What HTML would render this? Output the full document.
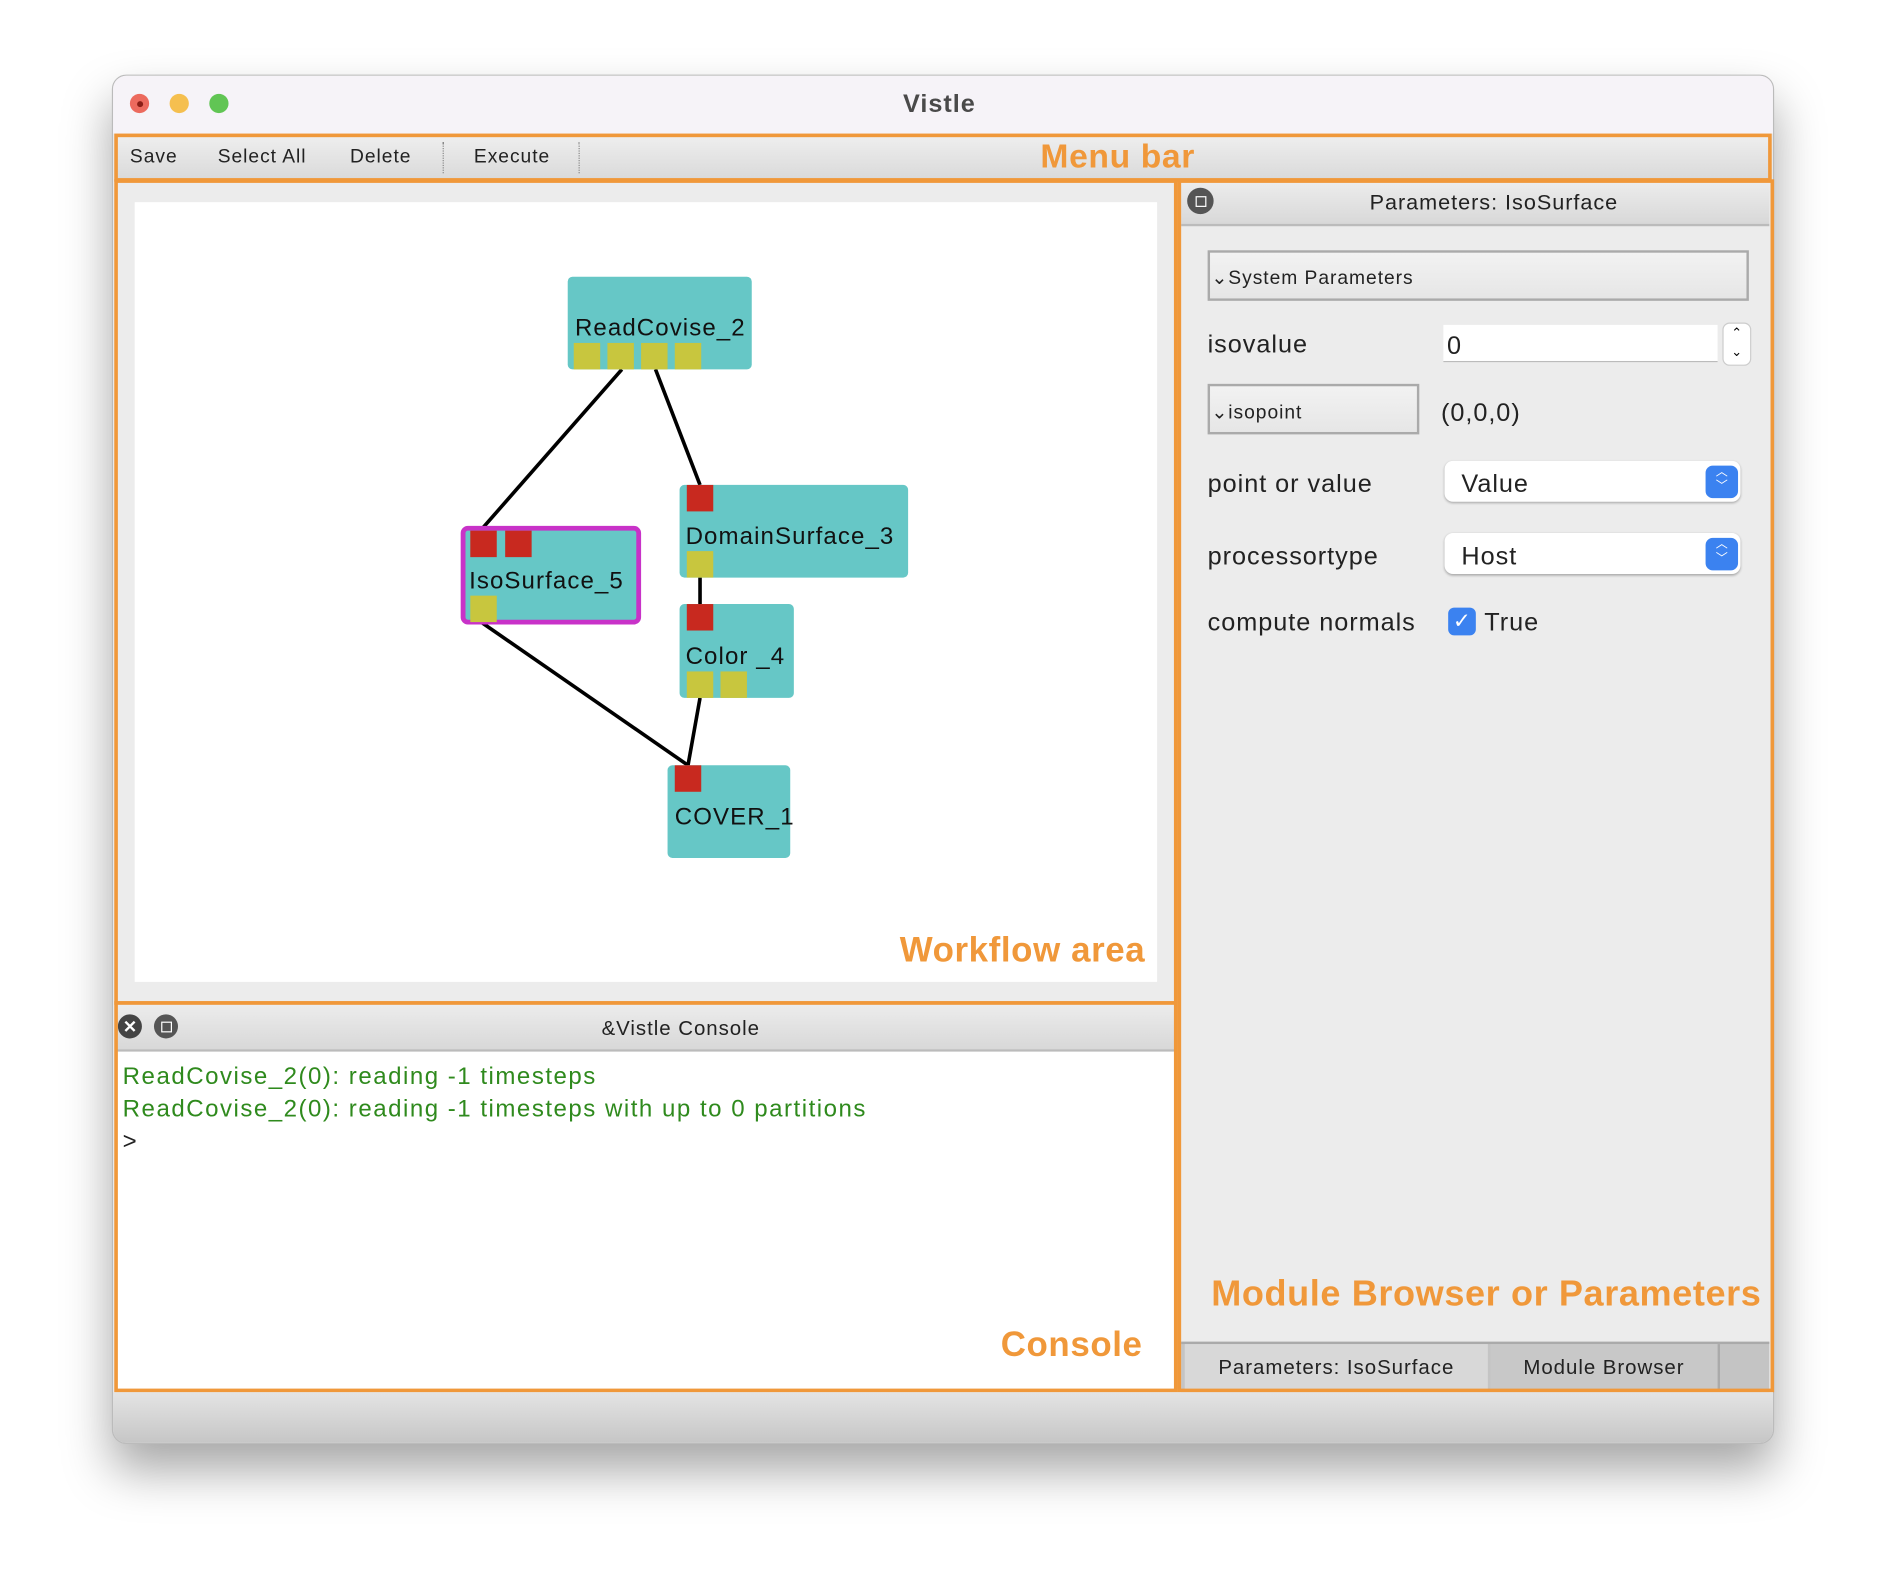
<!DOCTYPE html>
<html><head><meta charset="utf-8"><style>
html,body{margin:0;padding:0;background:#fff;width:1886px;height:1592px;overflow:hidden}
#s{position:absolute;left:0;top:0;width:1568px;height:1323px;transform:scale(1.2028,1.2033);transform-origin:0 0;font-family:"Liberation Sans",sans-serif}
.a{position:absolute}
.ob{position:absolute;border:3px solid #f0983a;box-sizing:border-box}
.or{position:absolute;color:#f0983a;font-weight:bold;white-space:nowrap;letter-spacing:0.5px}
.node{position:absolute;background:#66c7c6;border-radius:4px}
.y{position:absolute;background:#c8c63e;width:22px;height:22px}
.r{position:absolute;background:#c8291f;width:22px;height:22px}
.nt{position:absolute;font-size:20px;color:#111;white-space:nowrap;letter-spacing:0.9px}
.t{position:absolute;white-space:nowrap;color:#222;letter-spacing:0.8px}
</style></head><body><div id="s">
<div class="a" style="left:93px;top:62px;width:1382px;height:1138px;border-radius:12px;background:#ececec;box-shadow:0 22px 40px rgba(0,0,0,0.35);border:1px solid #bbb;box-sizing:border-box;overflow:hidden">
</div>
<div class="a" style="left:94px;top:63px;width:1380px;height:48px;background:#f6f3f8;border-radius:11px 11px 0 0"></div>
<div class="a" style="left:108px;top:78px;width:16px;height:16px;border-radius:50%;background:#ec6a5e"></div>
<div class="a" style="left:114px;top:84px;width:5px;height:5px;border-radius:50%;background:#8a1e16"></div>
<div class="a" style="left:141px;top:78px;width:16px;height:16px;border-radius:50%;background:#f5bf4f"></div>
<div class="a" style="left:174px;top:78px;width:16px;height:16px;border-radius:50%;background:#61c554"></div>
<div class="t" style="left:731px;top:75px;width:100px;text-align:center;font-size:21px;font-weight:bold;color:#4a4a4a">Vistle</div>
<!-- menu bar -->
<div class="a" style="left:95px;top:112px;width:1378px;height:38px;background:linear-gradient(#efefef,#d9d9d9)"></div>
<div class="ob" style="left:95px;top:111px;width:1378px;height:40px"></div>
<div class="t" style="left:108px;top:122px;font-size:16px">Save</div>
<div class="t" style="left:181px;top:122px;font-size:16px">Select All</div>
<div class="t" style="left:291px;top:122px;font-size:16px">Delete</div>
<div class="a" style="left:368px;top:118px;height:26px;border-left:1px dotted #888"></div>
<div class="t" style="left:394px;top:122px;font-size:16px">Execute</div>
<div class="a" style="left:481px;top:118px;height:26px;border-left:1px dotted #888"></div>
<div class="or" style="left:865px;top:114px;font-size:28px">Menu bar</div>
<!-- workflow -->
<div class="a" style="left:112px;top:168px;width:850px;height:648px;background:#fff"></div>
<div class="ob" style="left:95px;top:149px;width:884px;height:686px"></div>
<svg class="a" style="left:0;top:0" width="1000" height="800">
<g stroke="#000" stroke-width="3">
<line x1="517" y1="307" x2="402" y2="438"/><line x1="545" y1="307" x2="582" y2="403"/>
<line x1="582" y1="480" x2="582" y2="502"/><line x1="400" y1="517" x2="572" y2="636"/>
<line x1="582" y1="580" x2="572" y2="636"/></g></svg>
<div class="node" style="left:472px;top:230px;width:153px;height:77px"></div>
<div class="y" style="left:477px;top:285px"></div><div class="y" style="left:505px;top:285px"></div><div class="y" style="left:533px;top:285px"></div><div class="y" style="left:561px;top:285px"></div>
<div class="nt" style="left:478px;top:262px">ReadCovise_2</div>
<div class="node" style="left:565px;top:403px;width:190px;height:77px"></div>
<div class="r" style="left:571px;top:403px"></div><div class="y" style="left:571px;top:458px"></div>
<div class="nt" style="left:570px;top:435px">DomainSurface_3</div>
<div class="node" style="left:383px;top:437px;width:150px;height:82px;border:4px solid #c832c8;box-sizing:border-box;border-radius:6px"></div>
<div class="r" style="left:391px;top:441px"></div><div class="r" style="left:420px;top:441px"></div><div class="y" style="left:391px;top:495px"></div>
<div class="nt" style="left:390px;top:472px">IsoSurface_5</div>
<div class="node" style="left:565px;top:502px;width:95px;height:78px"></div>
<div class="r" style="left:571px;top:502px"></div><div class="y" style="left:571px;top:558px"></div><div class="y" style="left:599px;top:558px"></div>
<div class="nt" style="left:570px;top:535px">Color _4</div>
<div class="node" style="left:555px;top:636px;width:102px;height:77px"></div>
<div class="r" style="left:561px;top:636px"></div>
<div class="nt" style="left:561px;top:668px">COVER_1</div>
<div class="or" style="left:748px;top:774px;font-size:29px">Workflow area</div>
<!-- console -->
<div class="a" style="left:97px;top:835px;width:880px;height:37px;background:linear-gradient(#ececec,#d8d8d8);border-bottom:2px solid #bbb"></div>
<div class="a" style="left:98px;top:843px;width:20px;height:20px;border-radius:50%;background:#444;color:#fff;font-size:14px;text-align:center;line-height:20px;font-weight:bold">✕</div>
<div class="a" style="left:128px;top:843px;width:20px;height:20px;border-radius:50%;background:#555"><div class="a" style="left:6px;top:6px;width:7px;height:7px;border:1.5px solid #fff"></div></div>
<div class="t" style="left:466px;top:845px;width:200px;text-align:center;font-size:17px">&amp;Vistle Console</div>
<div class="a" style="left:97px;top:874px;width:880px;height:280px;background:#fff"></div>
<div class="t" style="left:102px;top:884px;font-size:20px;color:#2f8a1d;letter-spacing:1.25px">ReadCovise_2(0): reading -1 timesteps</div>
<div class="t" style="left:102px;top:911px;font-size:20px;color:#2f8a1d;letter-spacing:1.25px">ReadCovise_2(0): reading -1 timesteps with up to 0 partitions</div>
<div class="t" style="left:102px;top:938px;font-size:20px">&gt;</div>
<div class="or" style="left:832px;top:1102px;font-size:29px">Console</div>
<div class="ob" style="left:95px;top:832px;width:884px;height:325px"></div>
<!-- right panel -->
<div class="a" style="left:982px;top:152px;width:489px;height:34px;background:linear-gradient(#ececec,#d8d8d8);border-bottom:2px solid #bbb"></div>
<div class="a" style="left:987px;top:156px;width:22px;height:22px;border-radius:50%;background:#555"><div class="a" style="left:7px;top:7px;width:7px;height:7px;border:1.5px solid #fff"></div></div>
<div class="t" style="left:1092px;top:158px;width:300px;text-align:center;font-size:18px">Parameters: IsoSurface</div>
<div class="a" style="left:1004px;top:208px;width:450px;height:42px;border:2px solid #aaa;box-sizing:border-box;background:linear-gradient(#f2f2f2,#e6e6e6)"></div>
<div class="t" style="left:1007px;top:221px;font-size:16px">⌄System Parameters</div>
<div class="t" style="left:1004px;top:275px;font-size:21px">isovalue</div>
<div class="a" style="left:1200px;top:270px;width:228px;height:30px;background:#fff;border-bottom:1px solid #bbb"></div>
<div class="t" style="left:1203px;top:276px;font-size:21px">0</div>
<div class="a" style="left:1432px;top:268px;width:22px;height:34px;background:#fff;border-radius:6px;border:1px solid #ccc;font-size:11px;text-align:center;line-height:16px">⌃<br>⌄</div>
<div class="a" style="left:1004px;top:319px;width:176px;height:42px;border:2px solid #aaa;box-sizing:border-box;background:linear-gradient(#f2f2f2,#e6e6e6)"></div>
<div class="t" style="left:1007px;top:333px;font-size:16px">⌄isopoint</div>
<div class="t" style="left:1198px;top:332px;font-size:21px">(0,0,0)</div>
<div class="t" style="left:1004px;top:391px;font-size:21px">point or value</div>
<div class="a" style="left:1201px;top:383px;width:246px;height:34px;background:#fff;border-radius:7px;box-shadow:0 1px 2px rgba(0,0,0,.3)"></div>
<div class="t" style="left:1215px;top:391px;font-size:21px">Value</div>
<div class="a" style="left:1418px;top:387px;width:27px;height:27px;background:#3b82f0;border-radius:6px;color:#fff;font-size:10px;text-align:center;line-height:12px">︿<br>﹀</div>
<div class="t" style="left:1004px;top:451px;font-size:21px">processortype</div>
<div class="a" style="left:1201px;top:443px;width:246px;height:34px;background:#fff;border-radius:7px;box-shadow:0 1px 2px rgba(0,0,0,.3)"></div>
<div class="t" style="left:1215px;top:451px;font-size:21px">Host</div>
<div class="a" style="left:1418px;top:447px;width:27px;height:27px;background:#3b82f0;border-radius:6px;color:#fff;font-size:10px;text-align:center;line-height:12px">︿<br>﹀</div>
<div class="t" style="left:1004px;top:506px;font-size:21px">compute normals</div>
<div class="a" style="left:1204px;top:505px;width:23px;height:23px;background:#3b82f0;border-radius:5px;color:#fff;font-size:18px;text-align:center;line-height:23px">✓</div>
<div class="t" style="left:1234px;top:506px;font-size:21px">True</div>
<div class="or" style="left:1007px;top:1059px;font-size:30px">Module Browser or Parameters</div>
<div class="a" style="left:982px;top:1115px;width:489px;height:40px;background:#c4c4c4;border-top:2px solid #aaa"></div>
<div class="a" style="left:985px;top:1117px;width:252px;height:38px;background:#d8d8d8"></div>
<div class="t" style="left:985px;top:1127px;width:252px;text-align:center;font-size:17px">Parameters: IsoSurface</div>
<div class="a" style="left:1239px;top:1117px;width:189px;height:38px;background:#c8c8c8;border-right:2px solid #aaa"></div>
<div class="t" style="left:1239px;top:1127px;width:189px;text-align:center;font-size:17px">Module Browser</div>
<div class="ob" style="left:979px;top:149px;width:496px;height:1008px"></div>
<!-- bottom -->
<div class="a" style="left:94px;top:1157px;width:1380px;height:42px;background:linear-gradient(#e4e4e4,#c6c6c6);border-radius:0 0 11px 11px"></div>
</div></body></html>
